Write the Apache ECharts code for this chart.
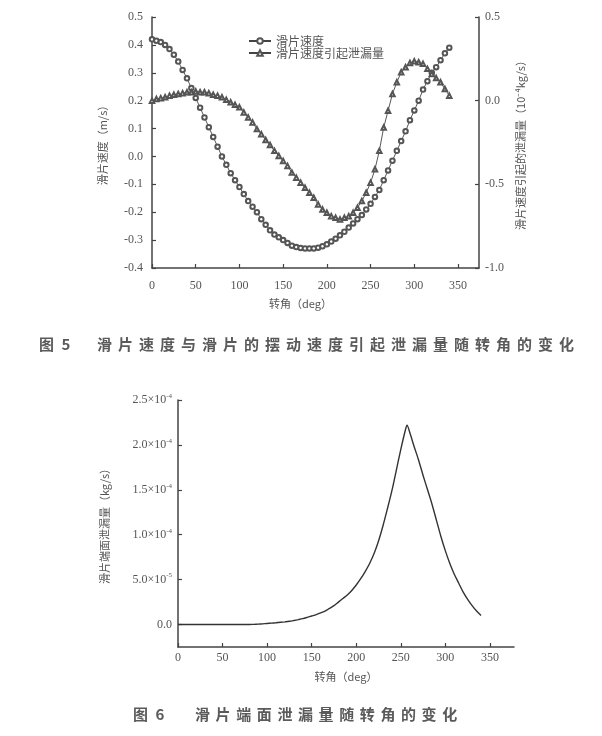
<!DOCTYPE html>
<html><head><meta charset="utf-8">
<script src="https://cdn.jsdelivr.net/npm/echarts@6/dist/echarts.min.js"></script>
<style>html,body{margin:0;padding:0;background:#fff}#c{width:602px;height:736px}</style>
</head><body><div id="c"></div>
<script>
// ---- Figure 5 data (rotation angle, deg) ----
const angle1 = [0,5,10,15,20,25,30,35,40,45,50,55,60,65,70,75,80,85,90,95,100,105,110,115,120,125,130,135,140,145,150,155,160,165,170,175,180,185,190,195,200,205,210,215,220,225,230,235,240,245,250,255,260,265,270,275,280,285,290,295,300,305,310,315,320,325,330,335,340];
// slider velocity (m/s), left axis
const sliderVelocity = [0.42,0.415,0.41,0.40,0.385,0.365,0.34,0.31,0.28,0.245,0.21,0.175,0.14,0.105,0.07,0.035,0.0,-0.03,-0.06,-0.085,-0.11,-0.135,-0.16,-0.18,-0.20,-0.225,-0.245,-0.265,-0.28,-0.29,-0.30,-0.31,-0.32,-0.325,-0.328,-0.33,-0.33,-0.33,-0.327,-0.322,-0.315,-0.305,-0.295,-0.283,-0.27,-0.255,-0.24,-0.225,-0.21,-0.19,-0.17,-0.145,-0.12,-0.085,-0.05,-0.015,0.02,0.055,0.09,0.13,0.165,0.20,0.24,0.27,0.30,0.32,0.345,0.37,0.39];
// leakage caused by slider velocity (1e-4 kg/s), right axis
const velocityLeakage = [0.0,0.01,0.015,0.02,0.03,0.035,0.04,0.045,0.05,0.05,0.055,0.05,0.05,0.045,0.035,0.03,0.02,0.005,-0.01,-0.025,-0.04,-0.07,-0.10,-0.13,-0.17,-0.20,-0.235,-0.265,-0.30,-0.33,-0.36,-0.39,-0.43,-0.46,-0.49,-0.52,-0.55,-0.58,-0.62,-0.65,-0.67,-0.69,-0.70,-0.71,-0.70,-0.69,-0.67,-0.64,-0.60,-0.55,-0.49,-0.41,-0.30,-0.16,-0.06,0.04,0.11,0.17,0.20,0.225,0.235,0.23,0.22,0.19,0.16,0.135,0.11,0.07,0.03];
// ---- Figure 6 data ----
const angle2 = [0,10,20,30,40,50,60,70,80,85,90,95,100,105,110,115,120,125,130,135,140,145,150,155,160,165,170,175,180,185,190,195,200,205,210,215,220,225,230,235,240,245,250,255,257,260,265,270,275,280,285,290,295,300,305,310,315,320,325,330,335,340];
// slider end-face leakage (1e-5 kg/s)
const faceLeakage = [0,0,0,0,0,0,0,0,0,0.02,0.05,0.08,0.12,0.16,0.2,0.25,0.3,0.36,0.45,0.55,0.66,0.8,0.95,1.1,1.3,1.5,1.8,2.1,2.5,2.9,3.3,3.8,4.4,5.1,5.9,6.8,7.9,9.3,11.0,12.9,14.9,17.2,19.5,21.6,22.2,21.4,19.8,18.3,16.6,15.0,13.4,11.6,9.8,8.2,6.8,5.6,4.6,3.6,2.8,2.1,1.5,1.0];
// ---- tick labels ----
const xTicks = [0,50,100,150,200,250,300,350];
const fig6YTicks = [0,5,10,15,20,25];
const fig6YLabels = ['0.0','5.0×10{s|-5}','1.0×10{s|-4}','1.5×10{s|-4}','2.0×10{s|-4}','2.5×10{s|-4}'];
const caption5Head = '图 5';
const caption5Body = '滑片速度与滑片的摆动速度引起泄漏量随转角的变化';
const caption6Head = '图 6';
const caption6Body = '滑片端面泄漏量随转角的变化';

const ink = '#444', txt = '#555';
const serif = '"Liberation Serif", "DejaVu Serif", serif';
const cjk = '"Noto Sans CJK SC", sans-serif';
const pair = (xs, ys) => xs.map((x, i) => [x, ys[i]]);
const spaced = s => Array.from(s).map(c => '{c|' + c + '}').join('');

const axisCommon = {
  axisLine: {show: true, onZero: false, lineStyle: {color: ink, width: 1.5}},
  axisTick: {show: true, inside: true, length: 4, lineStyle: {color: ink, width: 1.2}},
  splitLine: {show: false},
  axisLabel: {color: txt, fontFamily: serif, fontSize: 12}
};
const nameStyle = {color: txt, fontFamily: cjk, fontSize: 11};

const chart = echarts.init(document.getElementById('c'), null, {renderer: 'canvas'});
chart.setOption({
  backgroundColor: '#fff',
  animation: false,
  grid: [
    {left: 152, top: 17, width: 327, height: 251},
    {left: 178, top: 400, width: 336, height: 247}
  ],
  legend: {
    left: 243, top: 30, orient: 'vertical', itemGap: 0,
    itemWidth: 22, itemHeight: 7,
    textStyle: {color: txt, fontFamily: cjk, fontSize: 12},
    data: ['滑片速度', '滑片速度引起泄漏量']
  },
  xAxis: [
    Object.assign({}, axisCommon, {
      gridIndex: 0, type: 'value', min: 0, max: 374,
      name: '转角（deg）', nameLocation: 'middle', nameGap: 30,
      nameTextStyle: Object.assign({}, nameStyle, {padding: [0, 30, 0, 0]}),
      axisTick: Object.assign({}, axisCommon.axisTick, {customValues: xTicks}),
      axisLabel: Object.assign({}, axisCommon.axisLabel, {customValues: xTicks, margin: 12})
    }),
    Object.assign({}, axisCommon, {
      gridIndex: 1, type: 'value', min: 0, max: 377,
      name: '转角（deg）', nameLocation: 'middle', nameGap: 24,
      nameTextStyle: nameStyle,
      axisTick: Object.assign({}, axisCommon.axisTick, {customValues: xTicks}),
      axisLabel: Object.assign({}, axisCommon.axisLabel, {customValues: xTicks, margin: 5})
    })
  ],
  yAxis: [
    Object.assign({}, axisCommon, {
      gridIndex: 0, type: 'value', min: -0.4, max: 0.5, interval: 0.1,
      name: '滑片速度（m/s）', nameLocation: 'middle', nameGap: 44, nameRotate: 90,
      nameTextStyle: nameStyle,
      axisLabel: Object.assign({}, axisCommon.axisLabel, {margin: 9,
        formatter: v => (Math.round(v * 10) / 10).toFixed(1)})
    }),
    Object.assign({}, axisCommon, {
      gridIndex: 0, type: 'value', position: 'right', min: -1, max: 0.5, interval: 0.5,
      name: '滑片速度引起的泄漏量（10⁻⁴kg/s）', nameLocation: 'middle', nameGap: 36, nameRotate: 90,
      nameTextStyle: nameStyle,
      axisLabel: Object.assign({}, axisCommon.axisLabel, {margin: 6,
        formatter: v => (Math.round(v * 10) / 10).toFixed(1)})
    }),
    Object.assign({}, axisCommon, {
      gridIndex: 1, type: 'value', min: -2.5, max: 25,
      name: '滑片端面泄漏量（kg/s）', nameLocation: 'middle', nameGap: 68, nameRotate: 90,
      nameTextStyle: nameStyle,
      axisTick: Object.assign({}, axisCommon.axisTick, {customValues: fig6YTicks}),
      axisLabel: Object.assign({}, axisCommon.axisLabel, {
        customValues: fig6YTicks, margin: 6,
        formatter: v => fig6YLabels[fig6YTicks.indexOf(Math.round(v))],
        rich: {s: {fontSize: 7, fontFamily: serif, color: txt, padding: [0, 0, 8, 0]}}
      })
    })
  ],
  series: [
    {
      name: '滑片速度', type: 'line', xAxisIndex: 0, yAxisIndex: 0,
      data: pair(angle1, sliderVelocity),
      symbol: 'emptyCircle', symbolSize: 4.5,
      lineStyle: {color: ink, width: 0.9}, itemStyle: {color: '#555', borderWidth: 0.9}
    },
    {
      name: '滑片速度引起泄漏量', type: 'line', xAxisIndex: 0, yAxisIndex: 1,
      data: pair(angle1, velocityLeakage),
      symbol: 'emptyTriangle', symbolSize: 4.5,
      lineStyle: {color: ink, width: 0.9}, itemStyle: {color: '#555', borderWidth: 0.9}
    },
    {
      name: '滑片端面泄漏量', type: 'line', xAxisIndex: 1, yAxisIndex: 2,
      data: pair(angle2, faceLeakage), smooth: 0.3,
      showSymbol: false, symbol: 'none',
      lineStyle: {color: '#333', width: 1.4}
    }
  ],
  graphic: [
    {type: 'text', left: 39, top: 337, style: {text: spaced(caption5Head), rich: {c: {fontFamily: cjk, fontSize: 15, fontWeight: 'bold', fill: '#5a5a5a', padding: [0, 2, 0, 0]}}}},
    {type: 'text', left: 97, top: 337, style: {text: spaced(caption5Body), rich: {c: {fontFamily: cjk, fontSize: 15, fontWeight: 'bold', fill: '#5a5a5a', padding: [0, 6, 0, 0]}}}},
    {type: 'text', left: 133, top: 707, style: {text: spaced(caption6Head), rich: {c: {fontFamily: cjk, fontSize: 15, fontWeight: 'bold', fill: '#5a5a5a', padding: [0, 2, 0, 0]}}}},
    {type: 'text', left: 195, top: 707, style: {text: spaced(caption6Body), rich: {c: {fontFamily: cjk, fontSize: 15, fontWeight: 'bold', fill: '#5a5a5a', padding: [0, 5.6, 0, 0]}}}}
  ]
});
</script></body></html>
